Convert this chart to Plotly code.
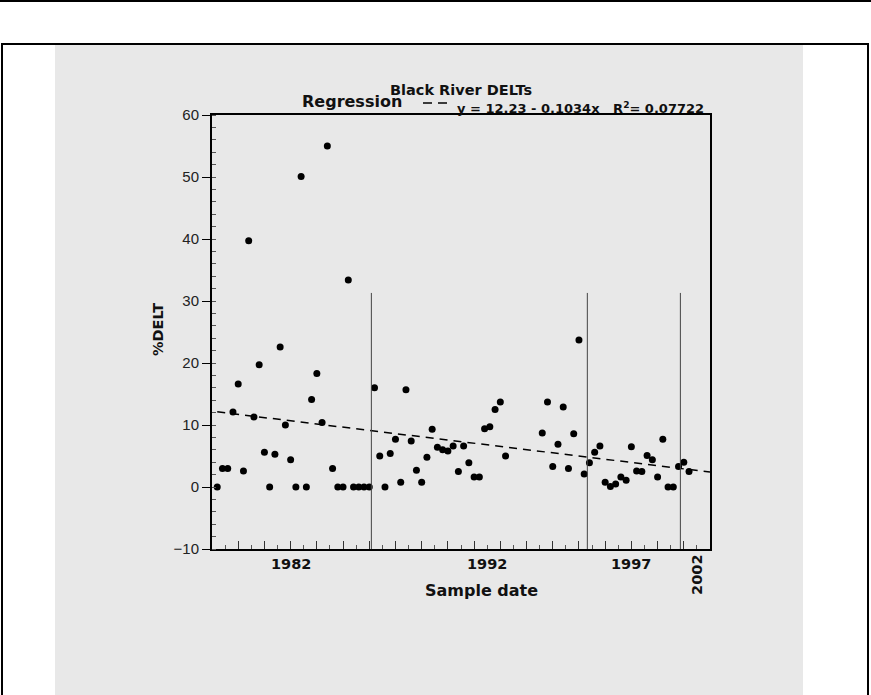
import plotly.graph_objects as go

# ---- data ----
sample_index = list(range(1, 57)) + list(range(63, 92))
delt_pct = [
    0, 3.0, 3.0, 12.1, 16.6, 2.6, 39.7, 11.3, 19.7, 5.6,
    0, 5.3, 22.6, 10.0, 4.4, 0, 50.1, 0, 14.1, 18.3,
    10.4, 55.0, 3.0, 0, 0, 33.4, 0, 0, 0, 0,
    16.0, 5.0, 0, 5.4, 7.7, 0.75, 15.7, 7.4, 2.7, 0.75,
    4.8, 9.3, 6.4, 6.0, 5.8, 6.6, 2.5, 6.6, 3.9, 1.6,
    1.6, 9.4, 9.7, 12.5, 13.7, 5.0,
    8.7, 13.7, 3.3, 6.9, 12.9, 3.0, 8.6, 23.7, 2.1, 3.9,
    5.6, 6.6, 0.75, 0.1, 0.5, 1.6, 1.1, 6.5, 2.6, 2.5,
    5.1, 4.4, 1.6, 7.7, 0, 0, 3.3, 4.0, 2.5,
]
reg_intercept = 12.23
reg_slope = -0.1034
r_squared = 0.07722
break_positions = [30.4, 71.6, 89.35]
break_top = 31.3
x_tick_positions = [15, 52.5, 80, 92.5]
x_tick_labels = ["1982", "1992", "1997", "2002"]
x_range = [0, 95]
y_range = [-10, 60]

# ---- layout geometry (pixels) ----
W, H = 871, 695
ML, MR, MT, MB = 212, 161, 115, 146
PW, PH = W - ML - MR, H - MT - MB


def fx(px):
    return (px - ML) / PW


def fy(py):
    return (H - MB - py) / PH


FONT = "Arial, 'Liberation Sans', sans-serif"
BOLD = "'DejaVu Sans', Arial, sans-serif"

fig = go.Figure()

reg_x = [1, x_range[1]]
reg_y = [reg_intercept + reg_slope * v for v in reg_x]
fig.add_trace(go.Scatter(
    x=reg_x, y=reg_y, mode="lines",
    line=dict(color="black", width=1.5, dash="8px,6px"),
    hoverinfo="skip", showlegend=False,
))
fig.add_trace(go.Scatter(
    x=sample_index, y=delt_pct, mode="markers",
    marker=dict(color="black", size=7, line=dict(width=0)),
    showlegend=False, name="%DELT",
))

shapes = [
    # grey panel
    dict(type="rect", xref="paper", yref="paper", layer="below",
         x0=fx(55), x1=fx(803), y0=fy(705), y1=fy(45),
         fillcolor="#e8e8e8", line=dict(width=0)),
    # outer border box
    dict(type="rect", xref="paper", yref="paper", layer="below",
         x0=fx(2), x1=fx(868), y0=fy(705), y1=fy(44),
         fillcolor="rgba(0,0,0,0)", line=dict(color="black", width=2)),
    # top rule
    dict(type="line", xref="paper", yref="paper", layer="above",
         x0=fx(0), x1=fx(871), y0=fy(1), y1=fy(1),
         line=dict(color="black", width=2)),
    # legend dash sample
    dict(type="line", xref="paper", yref="paper", layer="above",
         x0=fx(423), x1=fx(451), y0=fy(103), y1=fy(103),
         line=dict(color="black", width=1.5, dash="9px,6px")),
]
for b in break_positions:
    shapes.append(dict(type="line", xref="x", yref="y", layer="above",
                       x0=b, x1=b, y0=y_range[0], y1=break_top,
                       line=dict(color="#444", width=1)))

eq = "<b>y = %.2f - %.4fx&nbsp;&nbsp;&nbsp;R<sup>2</sup>= %.5f</b>" % (
    reg_intercept, -reg_slope, r_squared)
annotations = [
    dict(text="<b>Black River DELTs</b>", x=fx(461), y=fy(90),
         font=dict(family=BOLD, size=14.5, color="#111")),
    dict(text="<b>Regression</b>", x=fx(352), y=fy(102),
         font=dict(family=BOLD, size=16, color="#111")),
    dict(text=eq, x=fx(455), y=fy(108), xanchor="left",
         font=dict(family=BOLD, size=13, color="#111")),
    dict(text="<b>Sample date</b>", x=fx(481), y=fy(590),
         font=dict(family=BOLD, size=16, color="#111")),
    dict(text="<b>%DELT</b>", x=fx(158), y=fy(330), textangle=-90,
         font=dict(family=BOLD, size=14.5, color="#111")),
]
for pos, lab in zip(x_tick_positions, x_tick_labels):
    rotated = lab == "2002"
    annotations.append(dict(
        text="<b>%s</b>" % lab, xref="x", x=pos,
        y=fy(575) if rotated else fy(564),
        textangle=-90 if rotated else 0,
        font=dict(family=BOLD, size=14.5, color="#111"),
    ))
for a in annotations:
    a.setdefault("xref", "paper")
    a.setdefault("yref", "paper")
    a.setdefault("xanchor", "center")
    a.setdefault("yanchor", "middle")
    a["showarrow"] = False

fig.update_layout(
    width=W, height=H,
    margin=dict(l=ML, r=MR, t=MT, b=MB, pad=0),
    paper_bgcolor="white",
    plot_bgcolor="#fafafa",
    font=dict(family=FONT, size=13, color="#222"),
    shapes=shapes,
    annotations=annotations,
    showlegend=False,
)
fig.update_xaxes(
    range=x_range, showgrid=False, zeroline=False,
    showline=True, linecolor="black", linewidth=2, mirror=True,
    tickmode="linear", tick0=0, dtick=5, ticks="inside", ticklen=8,
    tickcolor="#333", tickwidth=1, showticklabels=False,
    minor=dict(tickmode="linear", tick0=0, dtick=2.5, ticks="inside",
               ticklen=4, tickcolor="#555", tickwidth=1),
)
fig.update_yaxes(
    range=y_range, showgrid=False, zeroline=False,
    showline=True, linecolor="black", linewidth=2, mirror=True,
    tickmode="linear", tick0=-10, dtick=10, ticks="outside", ticklen=8,
    tickcolor="black", tickwidth=1,
    tickfont=dict(family=FONT, size=15, color="#222"),
    minor=dict(tickmode="linear", tick0=-10, dtick=2, ticks="inside",
               ticklen=4, tickcolor="#555", tickwidth=1),
)

fig.write_html(
    "out.html",
    config={"displayModeBar": False},
    post_script="document.body.style.margin='0px';document.body.style.overflow='hidden';",
)
